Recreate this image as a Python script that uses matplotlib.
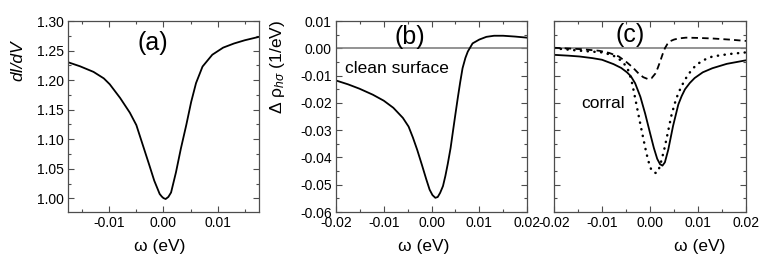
import numpy as np
import matplotlib
matplotlib.use("Agg")
import matplotlib.pyplot as plt
from matplotlib.ticker import MultipleLocator, FormatStrFormatter

plt.rcParams["font.family"] = ["Liberation Sans", "DejaVu Sans"]
plt.rcParams["mathtext.fontset"] = "custom"
plt.rcParams["mathtext.rm"] = "Liberation Sans"
plt.rcParams["mathtext.it"] = "Liberation Sans:italic"

# (a) dI/dV
w_a = [-0.0175, -0.0154, -0.0129, -0.0110, -0.0099, -0.0080, -0.0062, -0.0050,
       -0.0038, -0.0026, -0.0017, -0.0007, -0.0003, 0.0000, 0.0004, 0.0009, 0.0014,
       0.0023, 0.0032, 0.0042, 0.0051, 0.0060, 0.0072, 0.0090, 0.0110, 0.0130,
       0.0150, 0.0175]
didv_a = [1.230, 1.2235, 1.214, 1.203, 1.193, 1.170, 1.145, 1.124,
          1.090, 1.056, 1.030, 1.0075, 1.003, 1.0005, 0.999, 1.0025, 1.010,
          1.044, 1.084, 1.124, 1.163, 1.195, 1.223, 1.243, 1.255, 1.262,
          1.2675, 1.273]

# (b) clean surface
w_b = [-0.0200, -0.0175, -0.0151, -0.0123, -0.0100, -0.0080, -0.0060, -0.0048,
       -0.0039, -0.0030, -0.0020, -0.0011, -0.0004, 0.0002, 0.0008, 0.0013,
       0.0018, 0.0024, 0.0029, 0.0034, 0.0040, 0.0045, 0.0050, 0.0055, 0.0060,
       0.0065, 0.0071, 0.0076, 0.0086, 0.0100, 0.0115, 0.0131, 0.0150, 0.0175, 0.0200]
rho_b = [-0.0118, -0.0132, -0.0148, -0.0170, -0.0192, -0.0218, -0.0255, -0.0287,
         -0.0327, -0.0372, -0.0428, -0.0480, -0.0518, -0.0538, -0.0548, -0.0545,
         -0.0530, -0.0505, -0.0468, -0.0424, -0.0365, -0.0303, -0.0242, -0.0182, -0.0125,
         -0.0073, -0.0035, -0.0012, 0.0018, 0.0032, 0.0042, 0.0046, 0.0046, 0.0043, 0.0039]

# (c) corral: solid, dotted, dashed
w_c_solid = [-0.0200, -0.0170, -0.0147, -0.0120, -0.0100, -0.0076, -0.0060, -0.0048,
             -0.0040, -0.0031, -0.0020, -0.0010, 0.0000, 0.0008, 0.0015, 0.0021,
             0.0026, 0.0031, 0.0038, 0.0048, 0.0059, 0.0066, 0.0073, 0.0083,
             0.0093, 0.0110, 0.0130, 0.0160, 0.0200]
rho_c_solid = [-0.0024, -0.0027, -0.0030, -0.0036, -0.0042, -0.0058, -0.0072, -0.0088,
               -0.0102, -0.0128, -0.0178, -0.0240, -0.0310, -0.0365, -0.0405, -0.0425,
               -0.0430, -0.0418, -0.0372, -0.0285, -0.0206, -0.0175, -0.0150, -0.0127,
               -0.0109, -0.0088, -0.0073, -0.0057, -0.0044]

w_c_dot = [-0.0200, -0.0145, -0.0100, -0.0078, -0.0060, -0.0050, -0.0044, -0.0037,
           -0.0031, -0.0025, -0.0020, -0.0010, -0.0004, 0.0002, 0.0008, 0.0014,
           0.0019, 0.0024, 0.0030, 0.0035, 0.0045, 0.0052, 0.0059, 0.0069, 0.0079,
           0.0096, 0.0112, 0.0130, 0.0165, 0.0200]
rho_c_dot = [0.0000, -0.0009, -0.0015, -0.0025, -0.0045, -0.0065, -0.0085, -0.0130,
             -0.0182, -0.0235, -0.0279, -0.0364, -0.0410, -0.0442, -0.0456, -0.0457,
             -0.0440, -0.0410, -0.0368, -0.0327, -0.0243, -0.0200, -0.0164, -0.0128, -0.0097,
             -0.0061, -0.0043, -0.0030, -0.0021, -0.0015]

w_c_dash = [-0.0200, -0.0145, -0.0106, -0.0085, -0.0065, -0.0048, -0.0036, -0.0024,
            -0.0014, -0.0004, 0.0003, 0.0011, 0.0016, 0.0021, 0.0026, 0.0031, 0.0036,
            0.0042, 0.0050, 0.0059, 0.0075, 0.0100, 0.0130, 0.0165, 0.0200]
rho_c_dash = [0.0002, -0.0003, -0.0009, -0.0017, -0.0030, -0.0052, -0.0070, -0.0092,
              -0.0106, -0.0113, -0.0110, -0.0093, -0.0073, -0.0049, -0.0023, 0.0000, 0.0015,
              0.0026, 0.0032, 0.0036, 0.0039, 0.0038, 0.0036, 0.0032, 0.0027]

fig = plt.figure(figsize=(7.63, 2.63), dpi=100)
ax_a = fig.add_axes([0.0891, 0.1939, 0.2503, 0.7262])
ax_b = fig.add_axes([0.4404, 0.1939, 0.2503, 0.7262])
ax_c = fig.add_axes([0.7261, 0.1939, 0.2516, 0.7262])

lw = 1.3
lab_fs = 12.5
ax_a.plot(w_a, didv_a, color="black", lw=lw)
ax_a.set_xlim(-0.0176, 0.0176)
ax_a.set_ylim(0.977, 1.30)
ax_a.xaxis.set_major_locator(MultipleLocator(0.01))
ax_a.xaxis.set_minor_locator(MultipleLocator(0.005))
ax_a.yaxis.set_major_locator(MultipleLocator(0.05))
ax_a.yaxis.set_minor_locator(MultipleLocator(0.025))
ax_a.yaxis.set_major_formatter(FormatStrFormatter("%.2f"))
ax_a.xaxis.set_major_formatter(FormatStrFormatter("%.2f"))
ax_a.text(0.445, 0.885, "(a)", transform=ax_a.transAxes, fontsize=18,
          ha="center", va="center")
ax_a.set_ylabel("dI/dV", fontstyle="italic", fontsize=lab_fs)
ax_a.yaxis.set_label_coords(-0.225, 0.79)

ax_b.axhline(0, color="0.5", lw=1.2)
ax_b.plot(w_b, rho_b, color="black", lw=lw)
ax_b.text(0.386, 0.918, "(b)", transform=ax_b.transAxes, fontsize=18,
          ha="center", va="center")
ax_b.text(0.049, 0.749, "clean surface", transform=ax_b.transAxes, fontsize=lab_fs,
          ha="left", va="center")
ax_b.set_ylabel(r"Δ ρ$_{h\sigma}$ (1/eV)", fontsize=lab_fs)
ax_b.yaxis.set_label_coords(-0.258, 0.762)

ax_c.axhline(0, color="0.5", lw=1.2)
ax_c.plot(w_c_solid, rho_c_solid, color="black", lw=lw)
ax_c.plot(w_c_dot, rho_c_dot, color="black", lw=1.8, dashes=(0.1, 2.6),
          dash_capstyle="round")
ax_c.plot(w_c_dash, rho_c_dash, color="black", lw=lw, dashes=(3.6, 2.3))
ax_c.text(0.394, 0.927, "(c)", transform=ax_c.transAxes, fontsize=18,
          ha="center", va="center")
ax_c.text(0.142, 0.569, "corral", transform=ax_c.transAxes, fontsize=lab_fs,
          ha="left", va="center")
ax_c.tick_params(axis="y", which="both", labelleft=False)

for ax in (ax_b, ax_c):
    ax.set_xlim(-0.02, 0.02)
    ax.set_ylim(-0.06, 0.01)
    ax.xaxis.set_major_locator(MultipleLocator(0.01))
    ax.xaxis.set_minor_locator(MultipleLocator(0.005))
    ax.yaxis.set_major_locator(MultipleLocator(0.01))
    ax.yaxis.set_minor_locator(MultipleLocator(0.005))
    ax.xaxis.set_major_formatter(FormatStrFormatter("%.2f"))
    ax.yaxis.set_major_formatter(FormatStrFormatter("%.2f"))

xlabel_pos = {ax_a: 0.48, ax_b: 0.46, ax_c: 0.76}
for ax in (ax_a, ax_b, ax_c):
    ax.tick_params(which="both", direction="in", top=True, right=True,
                   color="0.3", labelsize=10, pad=3)
    ax.tick_params(which="major", length=4, width=0.8)
    ax.tick_params(which="minor", length=2, width=0.8)
    for s in ax.spines.values():
        s.set_color("0.3")
        s.set_linewidth(0.9)
    ax.set_xlabel("ω (eV)", fontsize=lab_fs)
    ax.xaxis.set_label_coords(xlabel_pos[ax], -0.14)

fig.savefig("out.png", dpi=100)
